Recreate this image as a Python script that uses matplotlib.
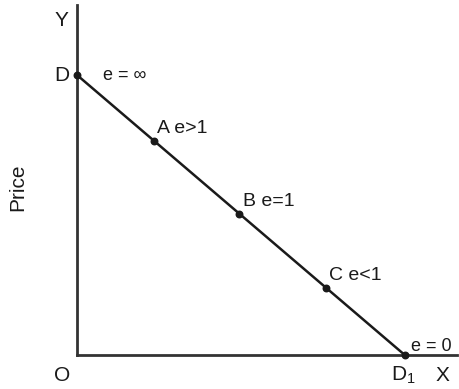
import matplotlib
matplotlib.use('Agg')
import matplotlib.pyplot as plt

# demand line end points and marked points (quantity, price)
line_q = [0, 10]
line_p = [10, 0]
point_names = ['A', 'B', 'C']
point_q = [2.35, 4.95, 7.6]
point_p = [7.65, 5.05, 2.4]
point_labels = ['A e>1', 'B e=1', 'C e<1']

plt.rcParams['font.family'] = ['Liberation Sans', 'DejaVu Sans']

fig = plt.figure(figsize=(4.59, 3.89), dpi=100)
ax = fig.add_axes([0, 0, 1, 1])
ax.set_xlim(-2.35, 11.65)
ax.set_ylim(-1.21, 12.68)
ax.axis('off')

ink = '#1a1a1a'
# axes
ax.plot([0, 0], [0, 12.5], color='#333333', lw=2)
ax.plot([0, 11.6], [0, 0], color='#333333', lw=2)

# demand curve
ax.plot(line_q, line_p, color=ink, lw=1.8)
ax.scatter([line_q[0]] + point_q + [line_q[1]], [line_p[0]] + point_p + [line_p[1]],
           s=22, color=ink, zorder=3)

fs = 15
ax.text(-0.25, 11.95, 'Y', fontsize=fs, ha='right', va='center', color=ink)
ax.text(-0.22, 10, 'D', fontsize=fs, ha='right', va='center', color=ink)
ax.text(0.8, 10, 'e = ∞', fontsize=fs - 2, ha='left', va='center', color=ink)
for q, p, lab in zip(point_q, point_p, point_labels):
    ax.text(q + 0.1, p + 0.45, lab, fontsize=fs - 1, ha='left', va='center', color=ink)
ax.text(10.2, 0.3, 'e = 0', fontsize=fs - 2, ha='left', va='center', color=ink)
ax.text(-0.2, -0.72, 'O', fontsize=fs, ha='right', va='center', color=ink)
ax.text(9.95, -0.72, 'D$_{\\mathregular{1}}$', fontsize=fs, ha='center', va='center', color=ink)
ax.text(11.15, -0.72, 'X', fontsize=fs, ha='center', va='center', color=ink)
ax.text(-1.8, 6.0, 'Price', fontsize=fs, rotation=90, ha='center', va='center', color=ink)

fig.savefig('out.png', dpi=100, facecolor='white')
